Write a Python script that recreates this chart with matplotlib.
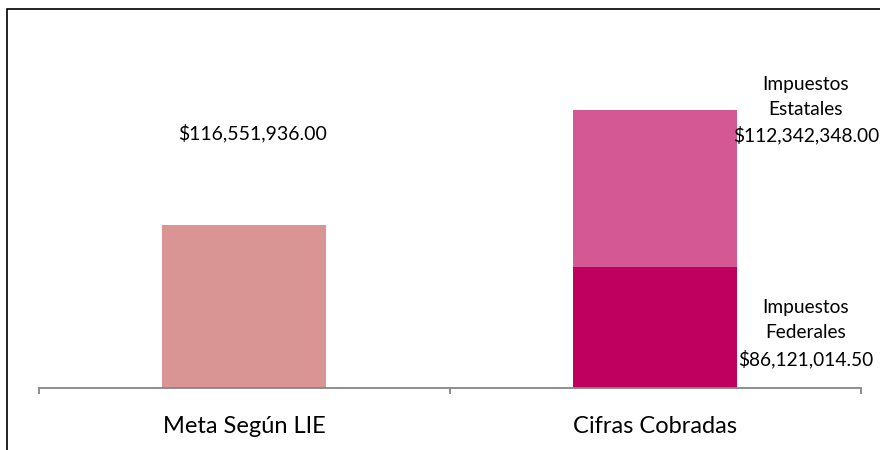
import matplotlib
matplotlib.use("Agg")
import matplotlib.pyplot as plt
from matplotlib.patches import Rectangle

# data (millions of pesos)
categories = ["Meta Según LIE", "Cifras Cobradas"]
meta = [116.551936, 0]
federales = [0, 86.1210145]
estatales = [0, 112.342348]
meta_label = "$116,551,936.00"
fed_label = "Impuestos\nFederales\n$86,121,014.50"
est_label = "Impuestos\nEstatales\n$112,342,348.00"

plt.rcParams['font.family'] = ['Lato', 'DejaVu Sans']

fig = plt.figure(figsize=(8.8, 4.5), dpi=100)
ax = fig.add_axes([38.5 / 880, 1 - 388 / 450, 822 / 880, 368 / 450])

x = [0, 1]
w = 0.4
ax.bar(x[0], meta[0], width=w, color="#D99594")
ax.bar(x[1], federales[1], width=w, color="#C0005F")
ax.bar(x[1], estatales[1], width=w, bottom=federales[1], color="#D45893")

ax.set_xlim(-0.5, 1.5)
ax.set_ylim(0, 263)

ax.text(0.02, 182, meta_label, ha="center", va="center", fontsize=14)
ax.text(1.367, federales[1] + estatales[1], est_label, ha="center", va="center",
        fontsize=13.8, linespacing=1.55)
ax.text(1.367, 39, fed_label, ha="center", va="center",
        fontsize=13.8, linespacing=1.55)

for s in ["top", "left", "right"]:
    ax.spines[s].set_visible(False)
ax.spines["bottom"].set_color("#868686")
ax.spines["bottom"].set_linewidth(1.3)
ax.set_yticks([])
ax.set_xticks(x)
ax.set_xticklabels(categories, fontsize=17)
ax.tick_params(axis="x", which="major", length=0, pad=20)
ax.set_xticks([-0.5, 0.5, 1.5], minor=True)
ax.tick_params(axis="x", which="minor", length=4, width=1.3, color="#868686")

# outer chart frame
fig.patches.append(Rectangle((6.5 / 880, -0.05), 1.2, 1.05 - 8.5 / 450,
                             transform=fig.transFigure, fill=False,
                             edgecolor="black", linewidth=1.2, clip_on=False))

fig.savefig("out.png", dpi=100)
